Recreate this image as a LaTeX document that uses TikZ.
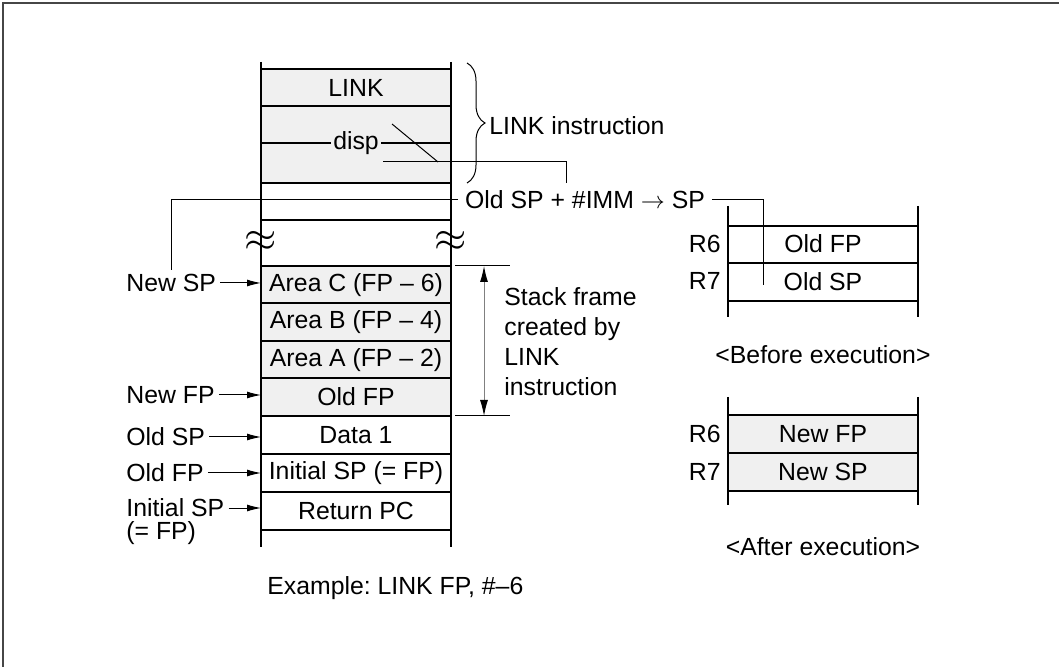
\documentclass[tikz,border=0pt]{standalone}
\usepackage{fontspec}
\setmainfont{Liberation Sans}
\usetikzlibrary{arrows.meta,decorations.pathreplacing}
\definecolor{cellgray}{RGB}{240,240,240}
\definecolor{framegray}{RGB}{70,70,70}
\frenchspacing

\begin{document}
\begin{tikzpicture}[x=0.5pt,y=-0.5pt,font=\fontsize{12.4}{15}\selectfont,
  wall/.style={line width=1pt},
  thin/.style={line width=0.5pt},
  ptr/.style={thin,-{Latex[length=7pt,width=3.5pt]}},
  lbl/.style={inner sep=2pt}]
  \useasboundingbox (0,0) rectangle (1059,667);
  \draw[line width=0.9pt,framegray] (3,667) -- (3,3) -- (1059,3);

  % memory stack
  \fill[cellgray] (261,69) rectangle (451,183);
  \fill[cellgray] (261,266) rectangle (451,416);
  \coordinate (sl) at (261,0);
  \draw[wall] (261,62) -- (261,547) (451,62) -- (451,547);
  \foreach \y in {69,106,183,220,266,303,341,378,416,454,492,530}
    \draw[wall] (261,\y) -- (451,\y);
  \draw[line width=0.6pt] (261,143) -- (451,143);
  \node (lnk) at (356,88) {LINK};
  \node[fill=cellgray,inner sep=1pt] (disp) at (356,143) {disp};
  \foreach \x in {261,451} \node[font=\huge] (w\x) at (\x,241) {$\approx$};
  \node (arc) at (356,285) {Area C (FP – 6)};
  \node (arb) at (356,322) {Area B (FP – 4)};
  \node (ara) at (356,360) {Area A (FP – 2)};
  \node (ofr) at (356,397) {Old FP};
  \node (dat) at (356,435) {Data 1};
  \node (isr) at (356,473) {Initial SP (= FP)};
  \node (rpc) at (356,511) {Return PC};

  % pointers on the left
  \node[lbl,anchor=west] (nsp) at (122,283) {New SP};
  \node[lbl,anchor=west] (nfp) at (122,395) {New FP};
  \node[lbl,anchor=west] (osp) at (122,437) {Old SP};
  \node[lbl,anchor=west] (ofp) at (122,473) {Old FP};
  \node[lbl,anchor=west] (isp) at (122,508) {Initial SP};
  \node[lbl,anchor=west] (ieq) at (122,533) {(= FP)};
  \foreach \n in {nsp,nfp,osp,ofp,isp} \draw[ptr] (\n.east) -- (\n.east -| sl);

  % instruction brace and the SP computation
  \draw[thin,decorate,decoration={brace,amplitude=9pt}] (467,63) -- (467,183);
  \node[lbl,anchor=west] (lki) at (485,126) {LINK instruction};
  \coordinate (da) at (383,162); \coordinate (db) at (566,183);
  \coordinate (dc) at (392,124); \coordinate (dd) at (438,162);
  \draw[thin] (da) -| (db);
  \draw[thin] (dc) -- (dd);
  \node (imm) at (585,200) {Old SP + \#IMM $\rightarrow$ SP};
  \coordinate (spe) at (763,285);
  \draw[thin] (imm.west) -| (nsp.north);
  \draw[thin] (imm.east) -| (spe);

  % stack frame span
  \coordinate (ft) at (484,266); \coordinate (fb) at (484,416);
  \draw[thin] (455,266) -- (510,266) (455,416) -- (510,416);
  \draw[thin,gray,{Latex[length=8pt,width=4pt,black]}-{Latex[length=8pt,width=4pt,black]}] (ft) -- (fb);
  \node[lbl,anchor=west,align=left] (frm) at (500,342) {Stack frame\\created by\\LINK\\instruction};

  % registers before / after
  \fill[cellgray] (728,415) rectangle (918,491);
  \draw[wall] (728,206) -- (728,317) (918,206) -- (918,317);
  \draw[wall] (728,397) -- (728,505) (918,397) -- (918,505);
  \foreach \y in {226,263,301,415,453,491} \draw[wall] (728,\y) -- (918,\y);
  \node (bfp) at (823,244) {Old FP};
  \node (bsp) at (823,282) {Old SP};
  \node (afp) at (823,434) {New FP};
  \node (asp) at (823,472) {New SP};
  \foreach \y/\r [count=\i] in {244/R6,281/R7,434/R6,472/R7}
    \node[lbl,anchor=east] (r\i) at (725,\y) {\r};
  \node (bef) at (823,355) {<Before execution>};
  \node (aft) at (823,547) {<After execution>};

  \node[lbl,anchor=west] (exm) at (263,588) {Example: LINK FP, \#–6};
\end{tikzpicture}
\end{document}
